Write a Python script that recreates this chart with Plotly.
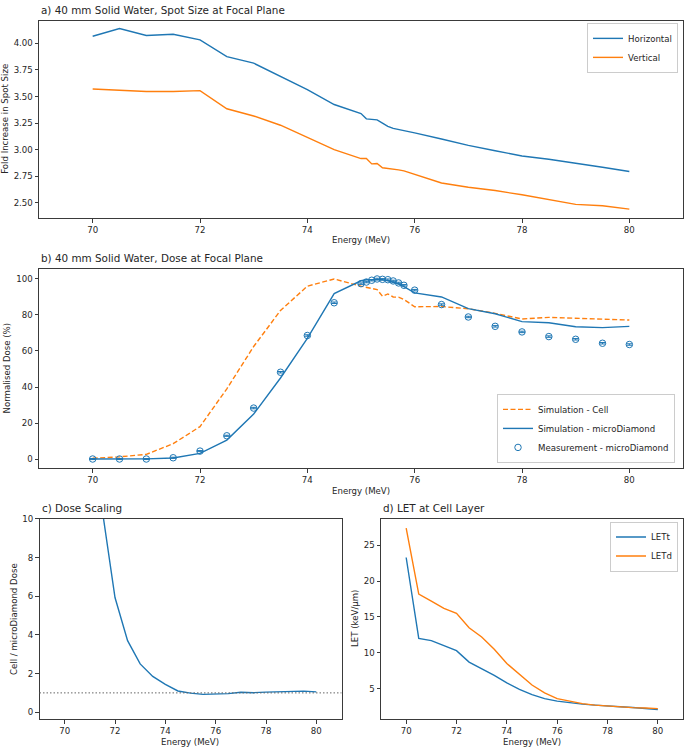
import plotly.graph_objects as go

# ---------------- data ----------------
energy = [70, 70.5, 71, 71.5, 72, 72.5, 73, 73.5, 74, 74.5, 75, 75.1, 75.2, 75.3,
          75.4, 75.5, 75.6, 75.7, 75.8, 76, 76.5, 77, 77.5, 78, 78.5, 79, 79.5, 80]

spot_horizontal = [4.068, 4.14, 4.075, 4.087, 4.034, 3.876, 3.814, 3.69, 3.565, 3.425,
                   3.34, 3.29, 3.285, 3.28, 3.25, 3.22, 3.20, 3.19, 3.18, 3.158,
                   3.10, 3.04, 2.99, 2.94, 2.91, 2.875, 2.835, 2.795]
spot_vertical = [3.571, 3.559, 3.547, 3.547, 3.556, 3.385, 3.317, 3.23, 3.115, 3.0,
                 2.916, 2.916, 2.866, 2.87, 2.83, 2.825, 2.82, 2.81, 2.80, 2.767,
                 2.686, 2.646, 2.615, 2.575, 2.53, 2.485, 2.472, 2.44]

dose_sim_cell = [0.4, 1.2, 2.6, 8.5, 18.0, 39.0, 62.5, 82.5, 96.0, 100.0,
                 96.0, 95.5, 94.7, 94.1, 90.4, 91.7, 90.0, 89.9, 88.6, 84.6,
                 84.7, 83.5, 80.9, 77.8, 78.7, 78.3, 77.9, 77.2]
dose_sim_md = [0.0, 0.0, 0.1, 0.6, 3.1, 10.5, 25.0, 45.0, 67.0, 91.9,
               99.0, 99.6, 99.5, 99.8, 99.6, 99.0, 98.3, 97.2, 95.8, 92.3,
               90.0, 83.5, 80.7, 76.3, 75.7, 73.5, 73.0, 73.7]
dose_meas_md = [0.0, 0.0, 0.0, 0.7, 4.4, 12.9, 28.3, 48.2, 68.6, 86.8,
                97.4, 98.3, 99.3, 100.0, 99.8, 99.6, 98.9, 97.8, 96.5, 93.8,
                85.8, 78.9, 73.7, 70.6, 68.0, 66.5, 64.3, 63.6]
dose_meas_err = [0.3, 0.3, 0.3, 0.3, 0.3, 0.3, 0.4, 0.4, 0.4, 0.4,
                 0.4, 0.4, 0.4, 0.4, 0.4, 0.4, 0.4, 0.4, 0.4, 0.4,
                 0.4, 0.4, 0.4, 0.4, 0.4, 0.4, 0.4, 0.4]

energy_ratio = [71.5, 72, 72.5, 73, 73.5, 74, 74.5, 75, 75.5, 76, 76.5, 77, 77.5,
                78, 78.5, 79, 79.5, 80]
dose_ratio = [10.4, 5.93, 3.7, 2.5, 1.85, 1.44, 1.1, 0.99, 0.925, 0.925, 0.96, 1.03,
              1.01, 1.04, 1.06, 1.09, 1.09, 1.05]

energy_let = [70, 70.5, 71, 71.5, 72, 72.5, 73, 73.5, 74, 74.5, 75, 75.5, 76, 76.5,
              77, 77.5, 78, 78.5, 79, 79.5, 80]
let_t = [23.3, 12.0, 11.7, 11.0, 10.3, 8.7, 7.77, 6.85, 5.8, 4.9, 4.17, 3.6, 3.25,
         3.0, 2.83, 2.7, 2.55, 2.46, 2.37, 2.27, 2.09]
let_d = [27.4, 18.2, 17.2, 16.2, 15.5, 13.5, 12.2, 10.5, 8.5, 7.0, 5.5, 4.4, 3.6,
         3.25, 2.9, 2.7, 2.55, 2.4, 2.35, 2.3, 2.2]

x_ticks = [70, 72, 74, 76, 78, 80]
spot_ticks = [2.5, 2.75, 3.0, 3.25, 3.5, 3.75, 4.0]
dose_ticks = [0, 20, 40, 60, 80, 100]
ratio_ticks = [0, 2, 4, 6, 8, 10]
let_ticks = [5, 10, 15, 20, 25]

# ---------------- style ----------------
W, H = 684, 747
FONT = "DejaVu Sans"
TXT = "#262626"
BLUE = "#1f77b4"
ORANGE = "#ff7f0e"
LW = 1.4


def fx(px):
    return px / W


def fy(px):
    return 1 - px / H


fig = go.Figure()

# a) spot size
fig.add_trace(go.Scatter(x=energy, y=spot_horizontal, mode="lines", name="Horizontal",
                         line=dict(color=BLUE, width=LW), xaxis="x", yaxis="y", legend="legend"))
fig.add_trace(go.Scatter(x=energy, y=spot_vertical, mode="lines", name="Vertical",
                         line=dict(color=ORANGE, width=LW), xaxis="x", yaxis="y", legend="legend"))

# b) dose
fig.add_trace(go.Scatter(x=energy, y=dose_sim_cell, mode="lines", name="Simulation - Cell",
                         line=dict(color=ORANGE, width=LW, dash="5px,2.5px"),
                         xaxis="x2", yaxis="y2", legend="legend2"))
fig.add_trace(go.Scatter(x=energy, y=dose_sim_md, mode="lines", name="Simulation - microDiamond",
                         line=dict(color=BLUE, width=LW), xaxis="x2", yaxis="y2", legend="legend2"))
fig.add_trace(go.Scatter(x=energy, y=dose_meas_md, mode="markers", name="Measurement - microDiamond",
                         marker=dict(symbol="circle-open", size=6.5, color=BLUE, line=dict(width=1, color=BLUE)),
                         error_y=dict(type="data", array=dose_meas_err, visible=True, color=BLUE,
                                      thickness=1, width=3),
                         xaxis="x2", yaxis="y2", legend="legend2"))

# c) dose scaling
fig.add_trace(go.Scatter(x=energy_ratio, y=dose_ratio, mode="lines", showlegend=False,
                         line=dict(color=BLUE, width=LW), xaxis="x3", yaxis="y3"))
fig.add_shape(type="line", xref="x3 domain", x0=0, x1=1, yref="y3", y0=1, y1=1,
              line=dict(color="#666666", width=1, dash="1.5px,2px"))

# d) LET
fig.add_trace(go.Scatter(x=energy_let, y=let_t, mode="lines", name="LETt",
                         line=dict(color=BLUE, width=LW), xaxis="x4", yaxis="y4", legend="legend3"))
fig.add_trace(go.Scatter(x=energy_let, y=let_d, mode="lines", name="LETd",
                         line=dict(color=ORANGE, width=LW), xaxis="x4", yaxis="y4", legend="legend3"))

# ---------------- axes ----------------
tickfont = dict(family=FONT, size=8.6, color=TXT)
base = dict(showline=True, mirror=True, linecolor="#3a3a3a", linewidth=1, ticks="outside",
            ticklen=3.5, tickwidth=0.8, tickcolor="#3a3a3a", showgrid=False, zeroline=False,
            tickfont=tickfont, fixedrange=True)

A_TOP, A_BOT = 15.7, 214.5
B_TOP, B_BOT = 265.5, 466.5
C_TOP, C_BOT = 517.3, 719.0
WIDE = [fx(39), fx(683)]
LEFT = [fx(39.5), fx(341.5)]
RIGHT = [fx(381), fx(683)]

fig.update_layout(
    xaxis=dict(base, domain=WIDE, anchor="y", range=[69, 81], tickvals=x_ticks),
    yaxis=dict(base, domain=[fy(A_BOT), fy(A_TOP)], anchor="x", range=[2.356, 4.215],
               tickvals=spot_ticks, tickformat=".2f"),
    xaxis2=dict(base, domain=WIDE, anchor="y2", range=[69, 81], tickvals=x_ticks),
    yaxis2=dict(base, domain=[fy(B_BOT), fy(B_TOP)], anchor="x2", range=[-5.2, 105.7],
                tickvals=dose_ticks),
    xaxis3=dict(base, domain=LEFT, anchor="y3", range=[69, 81], tickvals=x_ticks),
    yaxis3=dict(base, domain=[fy(C_BOT), fy(C_TOP)], anchor="x3", range=[-0.36, 10],
                tickvals=ratio_ticks),
    xaxis4=dict(base, domain=RIGHT, anchor="y4", range=[69, 81], tickvals=x_ticks),
    yaxis4=dict(base, domain=[fy(C_BOT), fy(C_TOP)], anchor="x4", range=[0.73, 28.7],
                tickvals=let_ticks),
)

# ---------------- legends ----------------
leg = dict(bgcolor="rgba(255,255,255,0.85)", bordercolor="#cccccc", borderwidth=1,
           font=dict(family=FONT, size=8.6, color=TXT), itemwidth=30, tracegroupgap=0)
fig.update_layout(
    legend=dict(leg, x=fx(678), y=fy(18), xanchor="right", yanchor="top"),
    legend2=dict(leg, x=fx(675), y=fy(461), xanchor="right", yanchor="bottom"),
    legend3=dict(leg, x=fx(678), y=fy(520), xanchor="right", yanchor="top"),
)

# ---------------- text ----------------
ann = []


def title(text, x_px, top_px):
    ann.append(dict(text=text, xref="paper", yref="paper", x=fx(x_px), y=fy(top_px),
                    xanchor="left", yanchor="bottom", yshift=3, showarrow=False,
                    font=dict(family=FONT, size=10.4, color=TXT)))


def xlabel(text, x0, x1, bot_px):
    ann.append(dict(text=text, xref="paper", yref="paper", x=fx((x0 + x1) / 2), y=fy(bot_px + 22.5),
                    xanchor="center", yanchor="middle", showarrow=False,
                    font=dict(family=FONT, size=8.6, color=TXT)))


def ylabel(text, x_px, top_px, bot_px):
    ann.append(dict(text=text, xref="paper", yref="paper", x=fx(x_px), y=fy((top_px + bot_px) / 2),
                    xanchor="center", yanchor="middle", textangle=-90, showarrow=False,
                    font=dict(family=FONT, size=8.6, color=TXT)))


title("a) 40 mm Solid Water, Spot Size at Focal Plane", 39, A_TOP)
title("b) 40 mm Solid Water, Dose at Focal Plane", 39, B_TOP)
title("c) Dose Scaling", 39.5, C_TOP)
title("d) LET at Cell Layer", 381, C_TOP)

xlabel("Energy (MeV)", 39, 683, A_BOT)
xlabel("Energy (MeV)", 39, 683, B_BOT)
xlabel("Energy (MeV)", 39.5, 341.5, C_BOT)
xlabel("Energy (MeV)", 381, 683, C_BOT)

ylabel("Fold Increase in Spot Size", 5.5, A_TOP, A_BOT)
ylabel("Normalised Dose (%)", 7, B_TOP, B_BOT)
ylabel("Cell / microDiamond Dose", 14, C_TOP, C_BOT)
ylabel("LET (keV/μm)", 355, C_TOP, C_BOT)

fig.update_layout(
    annotations=ann,
    width=W, height=H,
    margin=dict(l=0, r=0, t=0, b=0),
    paper_bgcolor="white", plot_bgcolor="white",
    font=dict(family=FONT, size=8.6, color=TXT),
)

fig.write_html("out.html")
